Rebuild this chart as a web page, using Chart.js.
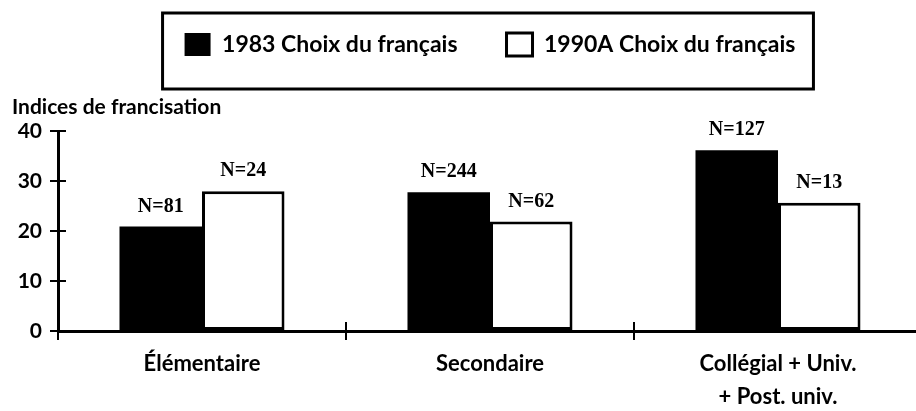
<!DOCTYPE html>
<html>
<head>
<meta charset="utf-8">
<script src="https://cdn.jsdelivr.net/npm/chart.js@4.4.1/dist/chart.umd.min.js"></script>
<style>
  html, body { margin: 0; padding: 0; background: #fff; overflow: hidden; }
  #wrap { width: 930px; height: 411px; }
</style>
</head>
<body>
<div id="wrap"><canvas id="c" width="930" height="411"></canvas></div>
<script>
// ---- data ----
const categories = ["Élémentaire", "Secondaire", ["Collégial + Univ.", "+ Post. univ."]];
const seriesNames = ["1983 Choix du français", "1990A Choix du français"];
const values1983 = [20.9, 27.8, 36.2];
const values1990A = [28.0, 21.9, 25.7];
const nLabels1983 = ["N=81", "N=244", "N=127"];
const nLabels1990A = ["N=24", "N=62", "N=13"];
const yTitle = "Indices de francisation";
const yMin = 0, yMax = 40, yStep = 10;

const SANS = "Lato, 'Open Sans', sans-serif";
const SERIF = "'Liberation Serif', 'DejaVu Serif', serif";

const nLabels = [nLabels1983, nLabels1990A];

const barLabelPlugin = {
  id: 'barLabels',
  afterDatasetsDraw(chart) {
    const ctx = chart.ctx;
    ctx.save();
    ctx.fillStyle = '#000';
    ctx.font = "bold 20px " + SERIF;
    ctx.textAlign = 'center';
    ctx.textBaseline = 'alphabetic';
    chart.data.datasets.forEach((ds, di) => {
      const meta = chart.getDatasetMeta(di);
      meta.data.forEach((el, i) => {
        ctx.fillText(nLabels[di][i], el.x, el.y - 15);
      });
    });
    ctx.restore();
  }
};

const innerTicksPlugin = {
  id: 'innerTicks',
  afterDraw(chart) {
    const ctx = chart.ctx;
    const xs = chart.scales.x, ys = chart.scales.y;
    const area = chart.chartArea;
    ctx.save();
    ctx.strokeStyle = '#000';
    ctx.lineWidth = 2;
    ctx.beginPath();
    ys.ticks.forEach(t => {
      const y = Math.round(ys.getPixelForValue(t.value));
      ctx.moveTo(area.left, y);
      ctx.lineTo(area.left + 8, y);
    });
    for (let i = 0; i <= categories.length; i++) {
      const x = Math.round(xs.getPixelForValue(i - 0.5));
      ctx.moveTo(x, area.bottom);
      ctx.lineTo(x, area.bottom - 9);
    }
    ctx.stroke();
    // legend frame
    const hb = chart.legend.legendHitBoxes;
    if (hb && hb.length) {
      const first = hb[0], last = hb[hb.length - 1];
      const l = first.left - 22;
      const r = last.left + last.width + 18;
      const t = first.top - 20;
      const b = first.top + first.height + 33;
      ctx.lineWidth = 3;
      ctx.strokeRect(l, t, r - l, b - t);
    }
    ctx.restore();
  }
};

Chart.defaults.color = '#000';

new Chart(document.getElementById('c'), {
  type: 'bar',
  data: {
    labels: categories,
    datasets: [
      {
        label: seriesNames[0],
        data: values1983,
        backgroundColor: '#000',
        borderColor: '#000',
        borderWidth: 0,
        borderSkipped: false,
        categoryPercentage: 0.573,
        barPercentage: 1.0
      },
      {
        label: seriesNames[1],
        data: values1990A,
        backgroundColor: '#fff',
        borderColor: '#000',
        borderWidth: 3,
        borderSkipped: false,
        categoryPercentage: 0.573,
        barPercentage: 1.0
      }
    ]
  },
  options: {
    responsive: false,
    animation: false,
    devicePixelRatio: 1,
    layout: { padding: { top: -16, left: 12, right: 8, bottom: 0 } },
    plugins: {
      tooltip: { enabled: false },
      legend: {
        display: true,
        position: 'top',
        fullSize: false,
        labels: {
          boxWidth: 26,
          boxHeight: 23,
          padding: 49,
          color: '#000',
          font: { family: SANS, size: 23, weight: 'bold' }
        }
      },
      title: {
        display: true,
        text: yTitle,
        align: 'start',
        position: 'top',
        weight: 500,
        color: '#000',
        font: { family: SANS, size: 21, weight: 'bold', lineHeight: 1.2 },
        padding: { top: 29, bottom: 11 }
      }
    },
    scales: {
      x: {
        offset: true,
        grid: {
          offset: true,
          drawOnChartArea: false,
          drawTicks: true,
          tickLength: 9,
          color: '#000',
          lineWidth: 2
        },
        border: { display: true, color: '#000', width: 3 },
        ticks: {
          color: '#000',
          padding: 7,
          maxRotation: 0,
          autoSkip: false,
          font: { family: SANS, size: 22, weight: 'bold', lineHeight: 1.5 }
        },
        afterFit(scale) { scale.height = 80; }
      },
      y: {
        min: yMin,
        max: yMax,
        grid: {
          drawOnChartArea: false,
          drawTicks: true,
          tickLength: 8,
          color: '#000',
          lineWidth: 2
        },
        border: { display: true, color: '#000', width: 3 },
        ticks: {
          stepSize: yStep,
          color: '#000',
          padding: 8,
          font: { family: SANS, size: 21, weight: 'bold' }
        },
        afterFit(scale) { scale.width = 46; }
      }
    }
  },
  plugins: [barLabelPlugin, innerTicksPlugin]
});
</script>
</body>
</html>
